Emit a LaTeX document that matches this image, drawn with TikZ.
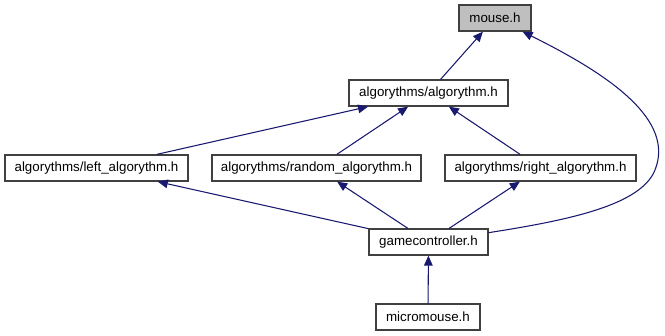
\documentclass[tikz,border=0pt]{standalone}
\usepackage{fontspec}
\setmainfont{Liberation Sans}
\usetikzlibrary{arrows.meta}
\definecolor{edgeblue}{RGB}{25,25,112}
\definecolor{boxgray}{RGB}{191,191,191}
\definecolor{boxline}{RGB}{64,64,64}

\tikzset{
  header/.style={draw=boxline, line width=1pt, fill=white, inner sep=0pt,
    minimum height=19.5pt, font=\fontsize{10}{12}\selectfont},
  current/.style={header, fill=boxgray},
  incl/.style={draw=edgeblue, line width=0.8pt,
    -{Triangle[length=7.5pt,width=6.5pt]}}
}

\begin{document}
\begin{tikzpicture}[x=0.75pt, y=-0.75pt]
\useasboundingbox (0,0) rectangle (665,336);

%header boxes
\node[current, minimum width=54pt] (mouse) at (495,18) {mouse.h};
\node[header, minimum width=119.25pt] (algo) at (428.5,93) {algorythms/algorythm.h};
\node[header, minimum width=137.25pt] (left) at (96.5,168) {algorythms/left\_algorythm.h};
\node[header, minimum width=156.75pt] (random) at (316.5,168) {algorythms/random\_algorythm.h};
\node[header, minimum width=143.25pt] (right) at (540.5,168) {algorythms/right\_algorythm.h};
\node[header, minimum width=89.25pt] (game) at (428.5,242) {gamecontroller.h};
\node[header, minimum width=78pt] (micro) at (428,317) {micromouse.h};

%bend of the long edge
\coordinate (bend) at (655,170);

%include edges
\draw[incl] (algo) -- (mouse);
\draw[incl] (left) -- (algo);
\draw[incl] (random) -- (algo);
\draw[incl] (right) -- (algo);
\draw[incl] (game) -- (left);
\draw[incl] (game) -- (random);
\draw[incl] (game) -- (right);
\draw[incl] (micro) -- (game);
\draw[incl] (game) .. controls (570,220) and (641,205) .. (bend) .. controls (675,120) and (610,75) .. (mouse);

\end{tikzpicture}
\end{document}
